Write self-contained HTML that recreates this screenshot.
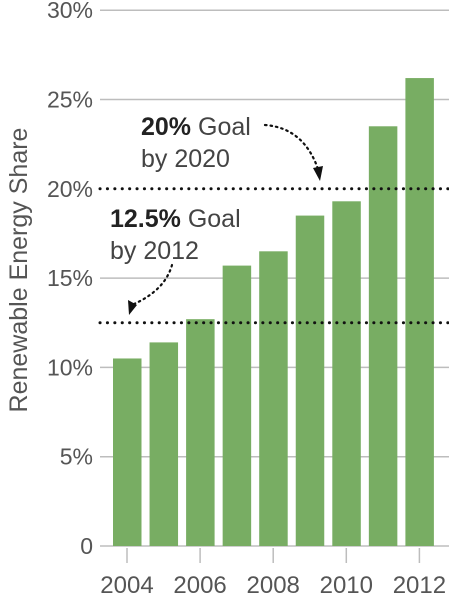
<!DOCTYPE html>
<html><head><meta charset="utf-8"><style>
html,body{margin:0;padding:0;background:#fff;}
svg{display:block;font-family:"Liberation Sans",sans-serif;}
</style></head><body>
<svg id="chart" width="449" height="600" viewBox="0 0 449 600">
<g id="grid"></g><g id="bars"></g><g id="goals"></g><g id="labels"></g>
<text transform="translate(27,270) rotate(-90)" text-anchor="middle" font-size="25" fill="#555">Renewable Energy Share</text>
<g>
<text x="141" y="135" font-size="25" fill="#444"><tspan font-weight="bold" fill="#222">20%</tspan> Goal</text>
<text x="141" y="167" font-size="25" fill="#444">by 2020</text>
<path d="M265,125 Q305,128 319,172" fill="none" stroke="#111" stroke-width="2.2" stroke-dasharray="1.5,4" stroke-linecap="round"/>
<path d="M313,168 L320,181 L323,166 Z" fill="#111"/>
</g>
<g>
<text x="110" y="227" font-size="25" fill="#444"><tspan font-weight="bold" fill="#222">12.5%</tspan> Goal</text>
<text x="110" y="259" font-size="25" fill="#444">by 2012</text>
<path d="M172,265 Q165,290 134,304" fill="none" stroke="#111" stroke-width="2.2" stroke-dasharray="1.5,4" stroke-linecap="round"/>
<path d="M128,300 L129,315 L137,305 Z" fill="#111"/>
</g>
</svg>
<script>
const years=[2004,2005,2006,2007,2008,2009,2010,2011,2012];
const shares=[10.5,11.4,12.7,15.7,16.5,18.5,19.3,23.5,26.2];
const yTicks=[0,5,10,15,20,25,30];
const yTickLabels=["0","5%","10%","15%","20%","25%","30%"];
const goalValues=[20,12.5];
const xLabelYears=[2004,2006,2008,2010,2012];
const NS="http://www.w3.org/2000/svg";
function y(v){return 546-v*17.86;}
function x(yr){return 127+(yr-2004)*36.55;}
function mk(tag,attrs,parent){const e=document.createElementNS(NS,tag);for(const k in attrs)e.setAttribute(k,attrs[k]);document.getElementById(parent).appendChild(e);return e;}
yTicks.forEach((t,i)=>{
  if(t!==20){const l=mk('line',{x1:100,x2:449,y1:y(t),y2:y(t),stroke:'#bdbdbd','stroke-width':1.5},'grid');
  
  }
  const tx=mk('text',{x:93,y:y(t)+8,'text-anchor':'end','font-size':23,fill:'#555'},'labels');
  tx.textContent=yTickLabels[i];
  
  
});
years.forEach((yr,i)=>{
  const r=mk('rect',{x:x(yr)-14,y:y(shares[i]),width:28.5,height:y(0)-y(shares[i]),fill:'#78ad63'},'bars');
  
  
});
goalValues.forEach(g=>{
  const l=mk('line',{x1:100,x2:449,y1:y(g),y2:y(g),stroke:'#111','stroke-width':3,'stroke-dasharray':'0.1,7.3','stroke-linecap':'round'},'goals');
  
  
});
xLabelYears.forEach(yr=>{
  const tk=mk('line',{x1:x(yr),x2:x(yr),y1:548,y2:563,stroke:'#bdbdbd','stroke-width':1.5},'labels');
  
  
  const t=mk('text',{x:x(yr),y:593,'text-anchor':'middle','font-size':24,fill:'#555'},'labels');
  t.textContent=yr;
  
  
});
</script>
</body></html>
